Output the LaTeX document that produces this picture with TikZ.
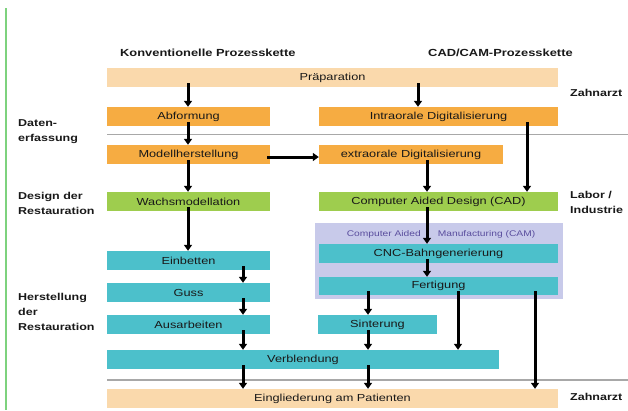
\documentclass[tikz,border=0pt]{standalone}
\usepackage{fontspec}
\setmainfont[FakeStretch=1.25]{Liberation Sans}
\usetikzlibrary{arrows.meta,calc}
\definecolor{peach}{HTML}{FAD9AC}
\definecolor{orng}{HTML}{F6AC42}
\definecolor{grn}{HTML}{9ECD4E}
\definecolor{cyn}{HTML}{4CC0CB}
\definecolor{lav}{HTML}{C8CAEA}
\definecolor{camtxt}{HTML}{5A4E9E}
\definecolor{sepline}{HTML}{A8A8A8}
\definecolor{edgeline}{HTML}{7ED27E}
\tikzset{
  box/.style={rectangle, inner sep=0pt, minimum height=19pt, font=\fontsize{10.2}{12}\selectfont, text=black!90},
  lbl/.style={anchor=west, align=left, inner sep=0pt, font=\fontsize{10}{15}\selectfont\bfseries, text=black!90},
  ttl/.style={anchor=west, inner sep=0pt, font=\fontsize{10.3}{12}\selectfont\bfseries, text=black!90},
  arr/.style={draw=black, line width=3pt, -{Triangle[width=8pt,length=6pt]}},
  sepl/.style={draw=sepline, line width=1.3pt}
}
\newcommand\varr[3]{\draw[arr] ($(#1.south -| #3)+(0,-4)$) -- (#2.north -| #3);}
\begin{document}
\begin{tikzpicture}[x=1pt,y=-1pt]
\useasboundingbox[fill=white] (0,0) rectangle (628,410);
\draw[edgeline, line width=1.2pt] (6,8) -- (6,410);
% titles
\node[ttl] (t1) at (120,53) {Konventionelle Prozesskette};
\node[ttl] (t2) at (428,53) {CAD/CAM-Prozesskette};
% separators
\draw[sepl] (107,134.5) -- (628,134.5);
\draw[sepl] (107,380) -- (628,380);
% CAM background
\node[rectangle, fill=lav, inner sep=0pt, minimum width=248pt, minimum height=76pt] (cam) at (439,261) {};
\node[inner sep=0pt, font=\fontsize{8.2}{10}\selectfont, text=camtxt] (camt) at (441,234) {Computer Aided\hspace{17pt}Manufacturing (CAM)};
% boxes
\node[box, fill=peach, minimum width=451pt] (prep) at (332.5,77.5) {Präparation};
\node[box, fill=orng, minimum width=163pt] (abf) at (188.5,116.5) {Abformung};
\node[box, fill=orng, minimum width=239pt] (intra) at (438.5,116.5) {Intraorale Digitalisierung};
\node[box, fill=orng, minimum width=163pt] (modell) at (188.5,154.5) {Modellherstellung};
\node[box, fill=orng, minimum width=184pt] (extra) at (411,154.5) {extraorale Digitalisierung};
\node[box, fill=grn, minimum width=163pt] (wachs) at (188.5,201.5) {Wachsmodellation};
\node[box, fill=grn, minimum width=239pt] (cad) at (438.5,201.5) {Computer Aided Design (CAD)};
\node[box, fill=cyn, minimum width=239pt] (cnc) at (438.5,253.5) {CNC-Bahngenerierung};
\node[box, fill=cyn, minimum width=239pt, minimum height=18pt] (fert) at (438.5,286) {Fertigung};
\node[box, fill=cyn, minimum width=163pt] (einb) at (188.5,260.5) {Einbetten};
\node[box, fill=cyn, minimum width=163pt] (guss) at (188.5,292.5) {Guss};
\node[box, fill=cyn, minimum width=163pt] (ausarb) at (188.5,324.5) {Ausarbeiten};
\node[box, fill=cyn, minimum width=119pt] (sint) at (377.5,324.5) {Sinterung};
\node[box, fill=cyn, minimum width=392pt] (verbl) at (303,359.5) {Verblendung};
\node[box, fill=peach, minimum width=451pt] (eingl) at (332.5,398.5) {Eingliederung am Patienten};
% side labels
\node[lbl] (l1) at (18,132) {Daten-\\erfassung};
\node[lbl] (l2) at (18,203) {Design der\\Restauration};
\node[lbl] (l3) at (18,312) {Herstellung\\der\\Restauration};
\node[lbl] (r1) at (570,93) {Zahnarzt};
\node[lbl] (r2) at (570,202) {Labor /\\Industrie};
\node[lbl] (r3) at (570,397) {Zahnarzt};
% arrow columns
\coordinate (xa) at (188,0);
\coordinate (xb) at (243,0);
\coordinate (xc) at (368,0);
\coordinate (xd) at (418,0);
\coordinate (xe) at (427,0);
\coordinate (xf) at (458,0);
\coordinate (xg) at (527,0);
\coordinate (xh) at (535,0);
\coordinate (yh) at (0,157);
% arrows
\varr{prep}{abf}{xa}
\varr{prep}{intra}{xd}
\varr{abf}{modell}{xa}
\varr{modell}{wachs}{xa}
\varr{wachs}{einb}{xa}
\draw[arr] ($(modell.east |- yh)+(-3,0)$) -- (extra.west |- yh);
\varr{intra}{cad}{xg}
\varr{extra}{cad}{xe}
\varr{cad}{cnc}{xe}
\varr{cnc}{fert}{xe}
\varr{einb}{guss}{xb}
\varr{guss}{ausarb}{xb}
\varr{ausarb}{verbl}{xb}
\varr{verbl}{eingl}{xb}
\varr{fert}{sint}{xc}
\varr{sint}{verbl}{xc}
\varr{verbl}{eingl}{xc}
\varr{fert}{verbl}{xf}
\varr{fert}{eingl}{xh}
\end{tikzpicture}
\end{document}
